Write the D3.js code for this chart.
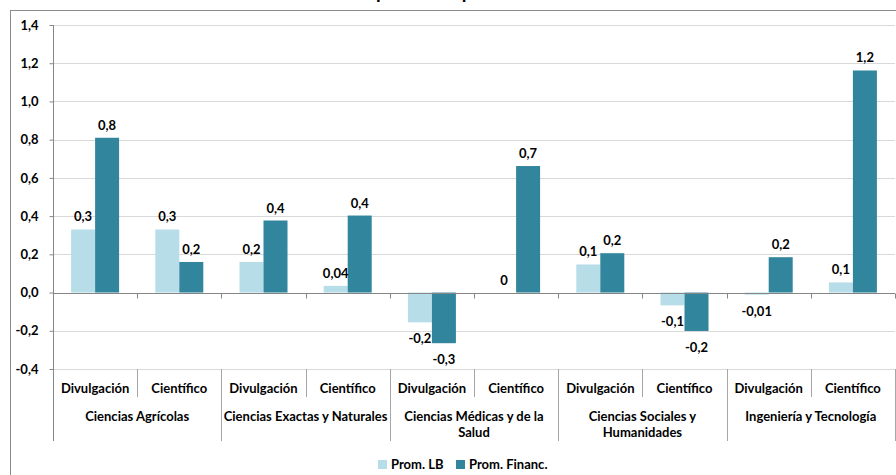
<!DOCTYPE html>
<html><head><meta charset="utf-8">
<script src="https://cdn.jsdelivr.net/npm/d3@7"></script>
<style>body{margin:0;background:#fff}svg{display:block;font-family:Lato,"Liberation Sans",sans-serif}</style>
</head><body><svg id="c" width="896" height="475"></svg>
<script>
const title = "Diferencia promedio por área de conocimiento";
const groups = ["Ciencias Agrícolas", "Ciencias Exactas y Naturales", "Ciencias Médicas y de la\nSalud", "Ciencias Sociales y\nHumanidades", "Ingeniería y Tecnología"];
const subTypes = ["Divulgación", "Científico"];
const seriesNames = ["Prom. LB", "Prom. Financ."];
const promLB =     [0.33, 0.33, 0.16, 0.035, -0.156, 0, 0.147, -0.067, -0.011, 0.053];
const promFinanc = [0.81, 0.16, 0.377, 0.403, -0.265, 0.662, 0.206, -0.201, 0.185, 1.162];
const yTicks = [-0.4, -0.2, 0, 0.2, 0.4, 0.6, 0.8, 1.0, 1.2, 1.4];
const colors = ["#b7dde8", "#31859c"];

const svg = d3.select("#c");
const L = 53, R = 895, T = 25, B = 369;
const FS = 13;
const cats = [];
groups.forEach((g, gi) => subTypes.forEach((s, si) => cats.push({g: gi, s, id: gi + "-" + si})));
const data = cats.map((c, i) => ({...c, vals: [promLB[i], promFinanc[i]]}));

const x0 = d3.scaleBand().domain(cats.map(c => c.id)).range([L, R]).padding(0);
const x1 = d3.scaleBand().domain(seriesNames).range([0, x0.bandwidth()]).paddingInner(0).paddingOuter(0.754);
const y = d3.scaleLinear().domain([-0.4, 1.4]).range([B, T]);
const fmt = v => v === 0 ? "0" : (Math.abs(v) < 0.05 ? v.toFixed(2) : v.toFixed(1)).replace(".", ",");

// frame
svg.append("rect").attr("x", 10.5).attr("y", 10.5).attr("width", 900).attr("height", 480)
  .attr("fill", "none").attr("stroke", "#8c8c8c").attr("stroke-width", 1);

// title (mostly cropped above view, as in the reference)
const tt = svg.append("text").attr("y", -1).attr("font-size", 19).attr("font-weight", 700).attr("fill", "#000").text(title);
const off = tt.node().getSubStringLength(0, title.indexOf("p"));
tt.attr("x", 376 - off);

// gridlines
svg.append("g").selectAll("line").data(yTicks.filter(t => t !== 0)).join("line")
  .attr("x1", L).attr("x2", R).attr("y1", d => Math.round(y(d)) + 0.5).attr("y2", d => Math.round(y(d)) + 0.5)
  .attr("stroke", "#d9d9d9");

// y axis
const yAxis = svg.append("g").attr("transform", `translate(${L + 0.5},0)`)
  .call(d3.axisLeft(y).tickValues(yTicks).tickSize(4).tickFormat(d => d3.format(".1f")(d).replace(".", ",").replace("−", "-")));
yAxis.select(".domain").remove();
yAxis.selectAll(".tick line").attr("stroke", "#868686");
yAxis.selectAll(".tick text").attr("font-size", FS).attr("font-weight", 700).attr("fill", "#000")
  .attr("font-family", "Lato, sans-serif").attr("x", -15);
svg.append("line").attr("x1", L + 0.5).attr("x2", L + 0.5).attr("y1", T).attr("y2", 441).attr("stroke", "#868686");

// bars
const gBars = svg.append("g");
data.forEach(d => {
  d.vals.forEach((v, si) => {
    const bx = x0(d.id) + x1(seriesNames[si]);
    gBars.append("rect").attr("x", bx).attr("width", x1.bandwidth())
      .attr("y", y(Math.max(0, v))).attr("height", Math.abs(y(v) - y(0)))
      .attr("fill", colors[si]);
  });
});

// zero line with ticks
const y0 = Math.round(y(0)) + 0.5;
svg.append("line").attr("x1", L).attr("x2", R).attr("y1", y0).attr("y2", y0).attr("stroke", "#868686");
svg.append("g").selectAll("line").data(cats.map(c => x0(c.id)).concat([R])).join("line")
  .attr("x1", d => Math.round(d) + 0.5).attr("x2", d => Math.round(d) + 0.5)
  .attr("y1", y0).attr("y2", y0 + 5).attr("stroke", "#868686");

// data labels
const gLab = svg.append("g").attr("font-size", FS).attr("font-weight", 700).attr("text-anchor", "middle").attr("fill", "#000");
data.forEach(d => {
  d.vals.forEach((v, si) => {
    const cx = x0(d.id) + x1(seriesNames[si]) + x1.bandwidth() / 2;
    const ly = v >= 0 ? y(v) - 8 : y(v) + 21;
    gLab.append("text").attr("x", cx).attr("y", ly).text(fmt(v));
  });
});

// category table lines
const gx = svg.append("g");
cats.forEach((c, i) => {
  if (i === 0) return;
  const xx = Math.round(x0(c.id)) + 0.5;
  const isGroup = c.s === subTypes[0];
  gx.append("line").attr("x1", xx).attr("x2", xx).attr("y1", B).attr("y2", isGroup ? 441 : 397).attr("stroke", "#a6a6a6");
});
gx.append("line").attr("x1", R + 0.5).attr("x2", R + 0.5).attr("y1", B).attr("y2", 441).attr("stroke", "#a6a6a6");

// subcategory labels
svg.append("g").attr("font-size", FS).attr("font-weight", 700).attr("text-anchor", "middle")
  .selectAll("text").data(cats).join("text")
  .attr("x", d => x0(d.id) + x0.bandwidth() / 2).attr("y", 393).text(d => d.s);

// group labels
const gG = svg.append("g").attr("font-size", FS).attr("font-weight", 700).attr("text-anchor", "middle");
groups.forEach((g, gi) => {
  const cx = x0(gi + "-0") + x0.bandwidth();
  const t = gG.append("text").attr("x", cx).attr("y", 421);
  g.split("\n").forEach((line, li) => t.append("tspan").attr("x", cx).attr("dy", li ? 16 : 0).text(line));
});

// legend
const leg = svg.append("g").attr("font-size", FS).attr("font-weight", 700);
const legX = [378, 456];
seriesNames.forEach((s, i) => {
  leg.append("rect").attr("x", legX[i]).attr("y", 460).attr("width", 9).attr("height", 9).attr("fill", colors[i]);
  leg.append("text").attr("x", legX[i] + 13).attr("y", 469).text(s);
});
</script></body></html>
